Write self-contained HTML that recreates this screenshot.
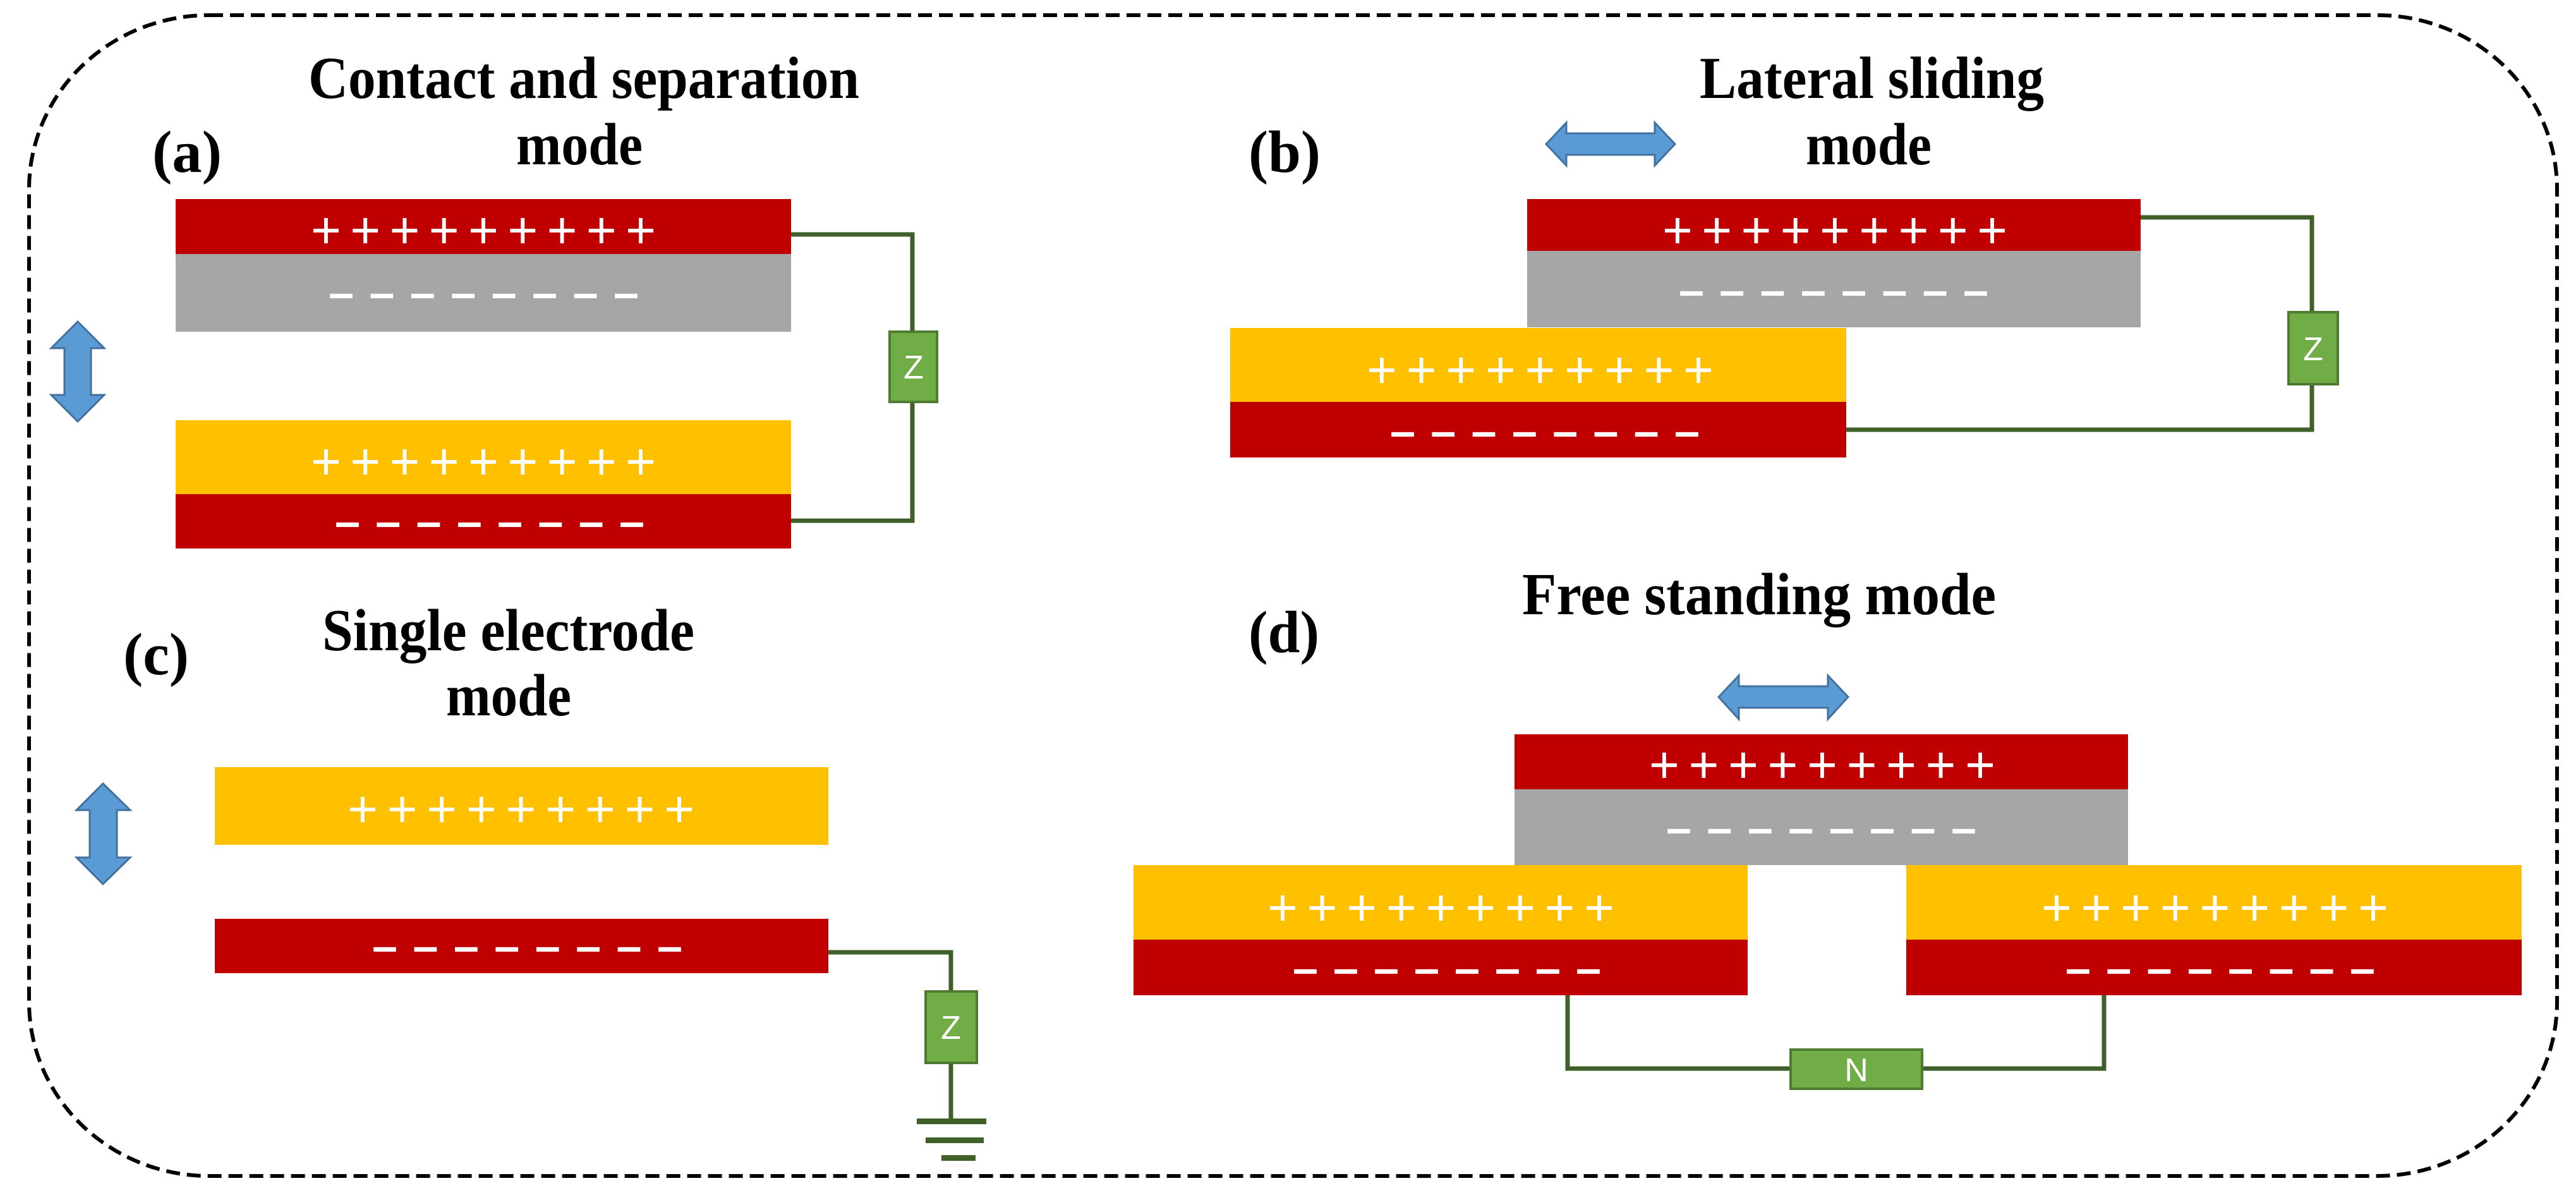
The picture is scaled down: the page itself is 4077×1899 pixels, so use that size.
<!DOCTYPE html>
<html><head><meta charset="utf-8"><style>
html,body{margin:0;padding:0;background:#fff;}
svg{display:block;}
.t{font-family:"Liberation Serif",serif;font-weight:bold;font-size:94px;fill:#000;}
.p{font-family:"Liberation Sans",sans-serif;font-size:82px;fill:#fff;}
.m{font-family:"Liberation Sans",sans-serif;font-weight:bold;font-size:72px;fill:#fff;}
.z{font-family:"Liberation Sans",sans-serif;font-size:52px;fill:#fff;}
.w{stroke:#3f6129;stroke-width:7;fill:none;}
.zb{fill:#70ad47;stroke:#4f7a32;stroke-width:4;}
.ar{fill:#5b9bd5;stroke:#41719c;stroke-width:3;}
</style></head><body>
<svg width="4077" height="1899" viewBox="0 0 4077 1899" xmlns="http://www.w3.org/2000/svg">
<rect x="46" y="24" width="4001" height="1837" rx="285" ry="275" fill="none" stroke="#000" stroke-width="6" stroke-dasharray="22 11"/>

<text class="t" x="488" y="155" textLength="872" lengthAdjust="spacingAndGlyphs">Contact and separation</text>
<text class="t" x="817" y="260" textLength="200" lengthAdjust="spacingAndGlyphs">mode</text>
<text class="t" x="241" y="272" textLength="110" lengthAdjust="spacingAndGlyphs">(a)</text>
<text class="t" x="2690" y="155" textLength="545" lengthAdjust="spacingAndGlyphs">Lateral sliding</text>
<text class="t" x="2858" y="260" textLength="199" lengthAdjust="spacingAndGlyphs">mode</text>
<text class="t" x="1976" y="272" textLength="114" lengthAdjust="spacingAndGlyphs">(b)</text>
<text class="t" x="510" y="1029" textLength="589" lengthAdjust="spacingAndGlyphs">Single electrode</text>
<text class="t" x="706" y="1132" textLength="198" lengthAdjust="spacingAndGlyphs">mode</text>
<text class="t" x="195" y="1067" textLength="104" lengthAdjust="spacingAndGlyphs">(c)</text>
<text class="t" x="2409" y="972" textLength="750" lengthAdjust="spacingAndGlyphs">Free standing  mode</text>
<text class="t" x="1976" y="1032" textLength="112" lengthAdjust="spacingAndGlyphs">(d)</text>

<polyline class="w" points="1252,371 1444,371 1444,824 1252,824"/>
<polyline class="w" points="3388,344 3659,344 3659,680 2922,680"/>
<polyline class="w" points="1311,1507 1505,1507 1505,1773"/>
<polyline class="w" points="2481,1575 2481,1691 3330,1691 3330,1575"/>

<rect x="278" y="315" width="974" height="87" fill="#c00000"/>
<rect x="278" y="402" width="974" height="123" fill="#a6a6a6"/>
<rect x="278" y="665" width="974" height="117" fill="#ffc000"/>
<rect x="278" y="782" width="974" height="86" fill="#c00000"/>
<rect x="2417" y="315" width="971" height="82" fill="#c00000"/>
<rect x="2417" y="397" width="971" height="121" fill="#a6a6a6"/>
<rect x="1947" y="519" width="975" height="117" fill="#ffc000"/>
<rect x="1947" y="636" width="975" height="88" fill="#c00000"/>
<rect x="340" y="1214" width="971" height="123" fill="#ffc000"/>
<rect x="340" y="1454" width="971" height="86" fill="#c00000"/>
<rect x="2397" y="1162" width="971" height="87" fill="#c00000"/>
<rect x="2397" y="1249" width="971" height="120" fill="#a6a6a6"/>
<rect x="1794" y="1369" width="972" height="118" fill="#ffc000"/>
<rect x="1794" y="1487" width="972" height="88" fill="#c00000"/>
<rect x="3017" y="1369" width="974" height="118" fill="#ffc000"/>
<rect x="3017" y="1487" width="974" height="88" fill="#c00000"/>

<text class="p" x="492" y="392" textLength="546" lengthAdjust="spacing">+++++++++</text>
<text class="m" x="520" y="488" textLength="491" lengthAdjust="spacing">––––––––</text>
<text class="p" x="492" y="758" textLength="546" lengthAdjust="spacing">+++++++++</text>
<text class="m" x="530" y="850" textLength="490" lengthAdjust="spacing">––––––––</text>

<text class="p" x="2631" y="392" textLength="546" lengthAdjust="spacing">+++++++++</text>
<text class="m" x="2657" y="484" textLength="490" lengthAdjust="spacing">––––––––</text>
<text class="p" x="2163" y="613" textLength="549" lengthAdjust="spacing">+++++++++</text>
<text class="m" x="2200" y="707" textLength="490" lengthAdjust="spacing">––––––––</text>

<text class="p" x="550" y="1308" textLength="549" lengthAdjust="spacing">+++++++++</text>
<text class="m" x="589" y="1522" textLength="491" lengthAdjust="spacing">––––––––</text>

<text class="p" x="2610" y="1238" textLength="548" lengthAdjust="spacing">+++++++++</text>
<text class="m" x="2637" y="1335" textLength="491" lengthAdjust="spacing">––––––––</text>
<text class="p" x="2006" y="1464" textLength="549" lengthAdjust="spacing">+++++++++</text>
<text class="m" x="2046" y="1557" textLength="488" lengthAdjust="spacing">––––––––</text>
<text class="p" x="3231" y="1464" textLength="549" lengthAdjust="spacing">+++++++++</text>
<text class="m" x="3269" y="1557" textLength="490" lengthAdjust="spacing">––––––––</text>

<rect class="zb" x="1408" y="525" width="75" height="111"/>
<text class="z" x="1446" y="599" text-anchor="middle">Z</text>
<rect class="zb" x="3622" y="494" width="78" height="114"/>
<text class="z" x="3661" y="570" text-anchor="middle">Z</text>
<rect class="zb" x="1465" y="1569" width="81" height="113"/>
<text class="z" x="1505" y="1644" text-anchor="middle">Z</text>
<rect class="zb" x="2834" y="1661" width="208" height="62"/>
<text class="z" x="2938" y="1711" text-anchor="middle">N</text>

<rect x="1451" y="1770" width="110" height="9" fill="#3f6129"/>
<rect x="1465" y="1800" width="92" height="9" fill="#3f6129"/>
<rect x="1490" y="1828" width="54" height="9" fill="#3f6129"/>

<polygon class="ar" points="123,509 165,551 144,551 144,625 165,625 123,667 81,625 102,625 102,551 81,551"/>
<polygon class="ar" points="163,1240 206,1282 185,1282 185,1357 206,1357 163,1399 121,1357 142,1357 142,1282 121,1282"/>
<polygon class="ar" points="2447,228 2479,194 2479,211 2619,211 2619,194 2651,228 2619,262 2619,245 2479,245 2479,262"/>
<polygon class="ar" points="2720,1103 2752,1069 2752,1086 2893,1086 2893,1069 2925,1103 2893,1138 2893,1120 2752,1120 2752,1138"/>
</svg>
</body></html>
